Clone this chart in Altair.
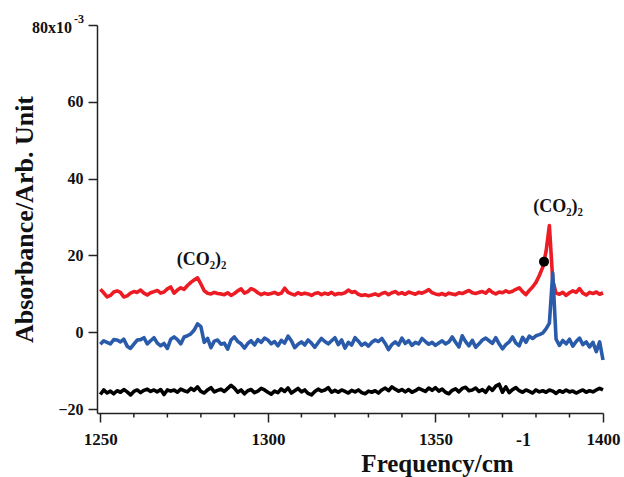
import altair as alt
import pandas as pd

# ---------------- data ----------------
freq = list(range(1250, 1401))

red = [
    11.2, 10.3, 9.2, 9.6, 10.5, 10.8, 10.4, 9.2, 9.5, 10.2,
    10.6, 10.4, 11.0, 10.2, 9.7, 10.3, 10.6, 10.9, 10.2, 10.5,
    11.3, 11.8, 10.2, 11.0, 11.6, 11.2, 12.2, 13.0, 13.6, 14.2,
    12.6, 10.8, 10.2, 10.0, 10.4, 10.1, 10.0, 9.8, 10.3, 9.6,
    10.1, 10.8, 11.3, 10.2, 10.6, 11.4, 11.0, 10.3, 9.8, 10.2,
    9.9, 10.1, 10.4, 9.9, 10.2, 11.5, 10.4, 10.0, 9.7, 10.3,
    9.9, 10.2, 10.0, 9.6, 10.1, 10.3, 9.8, 10.2, 9.9, 10.4,
    9.8, 10.1, 10.0, 10.3, 11.0, 10.4, 10.6, 9.9, 9.6, 9.8,
    9.5, 9.7, 10.0, 9.6, 10.1, 10.4, 9.8, 10.3, 10.6, 10.0,
    10.3, 9.9, 10.5, 10.2, 9.9, 10.4, 10.2, 10.6, 11.1, 10.3,
    10.0, 9.8, 10.1, 9.7, 10.2, 10.0, 9.8, 10.3, 10.1, 10.5,
    10.9, 10.3, 10.1, 10.4, 10.6, 10.2, 11.1, 10.4, 10.0, 10.5,
    10.3, 10.8, 10.4, 10.7, 11.2, 11.6, 10.6, 9.8, 10.9, 11.8,
    13.0, 14.8, 16.9, 21.0, 27.8, 13.5, 10.2, 9.9, 10.4, 9.6,
    10.3, 10.8, 10.4, 11.4, 10.2, 9.7, 10.4, 10.1, 10.5, 9.9,
    10.3,
]

blue = [
    -3.1, -2.2, -2.6, -3.0, -1.9, -2.0, -2.5, -1.8, -3.6, -4.2,
    -3.1, -2.0, -1.9, -1.4, -3.0, -2.2, -1.4, -2.8, -3.5, -2.9,
    -4.2, -1.8, -1.2, -1.9, -3.0, -1.2, -0.9, -0.4, 0.6, 2.2,
    1.5, -2.6, -1.6, -4.0, -2.3, -2.0, -3.1, -2.8, -4.4, -2.0,
    -1.2, -2.4, -3.0, -4.1, -2.9, -2.2, -3.3, -1.9, -2.6, -1.5,
    -2.0, -3.0, -2.4, -3.5, -2.1, -2.8, -1.0, -2.2, -4.0, -3.1,
    -2.5, -3.3, -2.0, -2.8, -3.9, -2.7, -1.6, -2.4, -3.0, -2.2,
    -1.4, -3.2, -2.0, -4.1, -2.6, -3.3, -1.4, -2.3, -3.4, -2.8,
    -3.6, -2.6, -2.0, -2.4, -1.6, -2.9, -4.5, -3.2, -2.5, -3.3,
    -1.5, -2.9, -2.2, -3.4, -2.6, -3.0, -1.6, -2.4, -3.1, -2.6,
    -3.4, -2.8, -2.2, -3.0, -2.5, -1.2, -2.6, -3.8, -0.9, -2.4,
    -3.5, -2.1, -3.9, -3.0, -2.0, -1.5, -2.2, -2.9, -1.4, -3.0,
    -4.3, -3.2, -2.5, -1.2, -2.8, -3.5, -1.3, -2.6, -1.0, -1.6,
    -0.9, -0.6, -0.2, 0.9, 2.4, 15.4, -1.8, -3.4, -2.1, -3.0,
    -1.8, -3.6, -2.4, -1.5, -3.2, -2.5, -3.8, -2.6, -5.0, -2.5,
    -7.2,
]

black = [
    -16.2, -15.0, -15.8, -15.3, -16.0, -15.2, -15.6, -14.9, -15.5, -16.3,
    -15.4, -15.0, -15.7, -15.1, -14.8, -15.4, -15.0, -15.5, -14.9, -16.2,
    -15.0, -15.3, -15.0, -15.6, -14.8, -15.2, -15.5, -14.6, -15.1, -14.2,
    -15.4, -15.8, -15.0, -14.4, -15.5, -15.1, -14.8, -15.4, -14.6, -13.8,
    -14.5, -15.6, -15.0, -16.0, -15.2, -14.9, -15.7, -15.3, -14.6, -15.0,
    -15.6, -16.1, -15.3, -15.7, -14.7, -15.4, -14.5, -15.8, -15.2, -14.6,
    -15.5, -15.0, -15.9, -16.3, -15.4, -14.8, -15.3, -15.0, -14.4, -15.6,
    -15.1, -15.6, -15.0, -15.4, -15.8, -15.1, -15.5, -15.0, -15.7, -16.0,
    -15.3, -15.6, -15.2, -15.8, -15.0, -14.5, -15.2, -14.2, -14.8, -15.3,
    -14.9, -15.5, -14.9, -15.6, -15.2, -14.6, -15.0, -15.4, -14.5, -15.1,
    -14.4, -15.3, -14.8, -15.6, -16.0, -15.1, -14.7, -15.5, -14.6, -14.3,
    -15.2, -15.0, -14.5, -15.4, -14.9, -15.6, -14.3, -15.1, -14.0, -13.5,
    -15.6, -14.2, -15.7, -14.9, -14.4, -15.2, -15.6, -15.0, -15.4, -15.8,
    -15.0, -15.5, -15.2, -15.6, -15.0, -15.3, -15.9, -15.2, -15.6, -15.0,
    -15.5, -15.3, -15.8, -15.4, -15.0, -15.6, -15.2, -15.5, -15.0, -14.6,
    -15.0,
]

series_names = ["red", "blue", "black"]
series_colors = ["#ED1C24", "#2A5BAA", "#000000"]

ann_x = [1280.2, 1386.6]
ann_y = [17.4, 31.3]
ann_text = ["(CO₂)₂", "(CO₂)₂"]

dot_x = [1382.4]
dot_y = [18.4]

y_ticks = [-20, 0, 20, 40, 60, 80]
x_major = [1250, 1300, 1350, 1400]
x_minor = [1260, 1270, 1280, 1290, 1310, 1320, 1330, 1340,
           1360, 1370, 1380, 1390]

FONT = "Liberation Serif"

# ---------------- build ----------------
rows = []
for name, vals in zip(series_names, [red, blue, black]):
    for f, v in zip(freq, vals):
        rows.append({"freq": f, "val": v, "series": name})
df = pd.DataFrame(rows)

xscale = alt.Scale(domain=[1249, 1400], nice=False, zero=False)
yscale = alt.Scale(domain=[-21, 80], nice=False, zero=False)

x_axis = alt.Axis(
    values=x_major, format="d",
    tickSize=9, grid=False, labelFlush=False, labelOverlap=False,
    labelFont=FONT, labelFontSize=17, labelFontWeight="bold", labelColor="#111",
    labelPadding=9,
    domainColor="#222", domainWidth=1.5, tickColor="#222", tickWidth=1.5,
    title="Frequency/cm", titleFont=FONT, titleFontSize=25, titleFontWeight="bold",
    titleColor="#111", titleX=340, titleY=58, titleAlign="center", titleBaseline="alphabetic",
)

y_axis = alt.Axis(
    values=y_ticks,
    labelExpr="datum.value == 80 ? '' : datum.label",
    tickSize=9, grid=False, labelFlush=False, labelOverlap=False,
    labelFont=FONT, labelFontSize=16, labelFontWeight="bold", labelColor="#111",
    labelPadding=5,
    domainColor="#222", domainWidth=1.5, tickColor="#222", tickWidth=1.5,
    title="Absorbance/Arb. Unit", titleFont=FONT, titleFontSize=26, titleFontWeight="bold",
    titleColor="#111", titleX=-65, titleY=194, titleAngle=-90, titleAlign="center",
    titleBaseline="alphabetic",
)

lines = alt.Chart(df).mark_line(strokeWidth=3.6, strokeJoin="round").encode(
    x=alt.X("freq:Q", scale=xscale, axis=x_axis),
    y=alt.Y("val:Q", scale=yscale, axis=y_axis),
    color=alt.Color("series:N", scale=alt.Scale(domain=series_names, range=series_colors), legend=None),
    order=alt.Order("freq:Q"),
)

minor = alt.Chart(pd.DataFrame({"t": x_minor})).mark_rule(color="#222", strokeWidth=1.5).encode(
    x=alt.X("t:Q", scale=xscale),
    y=alt.value(388),
    y2=alt.value(392.5),
)

ann_df = pd.DataFrame({"x": ann_x, "y": ann_y, "t": ann_text})
ann = alt.Chart(ann_df).mark_text(
    font=FONT, fontSize=18, fontWeight="bold", color="#111", align="center", baseline="alphabetic"
).encode(x=alt.X("x:Q", scale=xscale), y=alt.Y("y:Q", scale=yscale), text="t:N")

dot_df = pd.DataFrame({"x": dot_x, "y": dot_y})
dot = alt.Chart(dot_df).mark_point(filled=True, size=100, color="#000", opacity=1).encode(
    x=alt.X("x:Q", scale=xscale), y=alt.Y("y:Q", scale=yscale)
)

top_lab = alt.Chart(pd.DataFrame({"t": ["80x10"]})).mark_text(
    font=FONT, fontSize=16, fontWeight="bold", color="#111", align="right", baseline="alphabetic"
).encode(x=alt.value(-25), y=alt.value(8), text="t:N")

top_sup = alt.Chart(pd.DataFrame({"t": ["-3"]})).mark_text(
    font=FONT, fontSize=12, fontWeight="bold", color="#111", align="left", baseline="alphabetic"
).encode(x=alt.value(-23), y=alt.value(-2), text="t:N")

x_sup = alt.Chart(pd.DataFrame({"t": ["-1"]})).mark_text(
    font=FONT, fontSize=18, fontWeight="bold", color="#111", align="left", baseline="alphabetic"
).encode(x=alt.value(419), y=alt.value(421), text="t:N")

chart = alt.layer(lines, minor, ann, dot, top_lab, top_sup, x_sup).properties(
    width=506, height=388,
    autosize=alt.AutoSizeParams(type="none"),
    padding={"left": 97, "top": 25, "right": 21, "bottom": 64},
    background="white",
).configure_view(stroke=None)

chart.save("out.html", embed_options={"renderer": "svg", "actions": False})
